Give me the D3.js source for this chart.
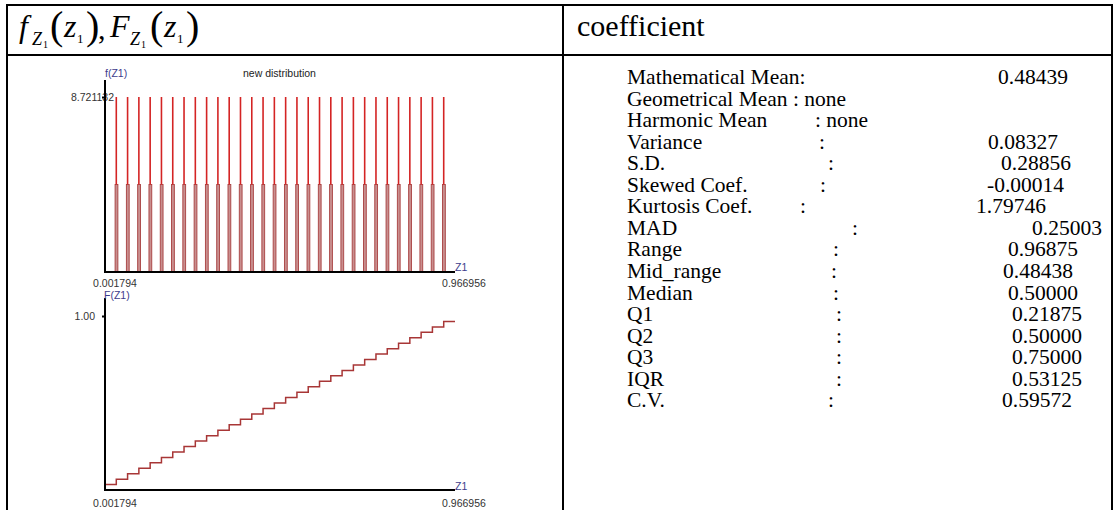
<!DOCTYPE html>
<html><head><meta charset="utf-8">
<script src="https://cdn.jsdelivr.net/npm/d3@7"></script>
<style>
html,body{margin:0;padding:0;background:#fff;}
svg{display:block;}
</style></head>
<body>
<script>
// ---- data ----
const zValues = [0.001794,0.032928,0.064063,0.095197,0.126331,0.157465,0.188600,0.219734,0.250868,0.282002,0.313137,0.344271,0.375405,0.406539,0.437674,0.468808,0.499942,0.531076,0.562211,0.593345,0.624479,0.655613,0.686748,0.717882,0.749016,0.780150,0.811285,0.842419,0.873553,0.904687,0.935822,0.966956];
const spikeZ = [0.032928,0.064063,0.095197,0.126331,0.157465,0.188600,0.219734,0.250868,0.282002,0.313137,0.344271,0.375405,0.406539,0.437674,0.468808,0.499942,0.531076,0.562211,0.593345,0.624479,0.655613,0.686748,0.717882,0.749016,0.780150,0.811285,0.842419,0.873553,0.904687,0.935822];
const spikeTop = [8.721132,8.721132,8.721132,8.721132,8.721132,8.721132,8.721132,8.721132,8.721132,8.721132,8.721132,8.721132,8.721132,8.721132,8.721132,8.721132,8.721132,8.721132,8.721132,8.721132,8.721132,8.721132,8.721132,8.721132,8.721132,8.721132,8.721132,8.721132,8.721132,8.721132];
const spikeBar = [4.36,4.36,4.36,4.36,4.36,4.36,4.36,4.36,4.36,4.36,4.36,4.36,4.36,4.36,4.36,4.36,4.36,4.36,4.36,4.36,4.36,4.36,4.36,4.36,4.36,4.36,4.36,4.36,4.36,4.36];
const cdfValues = [0.03125,0.0625,0.09375,0.125,0.15625,0.1875,0.21875,0.25,0.28125,0.3125,0.34375,0.375,0.40625,0.4375,0.46875,0.5,0.53125,0.5625,0.59375,0.625,0.65625,0.6875,0.71875,0.75,0.78125,0.8125,0.84375,0.875,0.90625,0.9375,0.96875,0.96875];
const xTickLabels = ["0.001794","0.966956"];
const densityTickLabel = "8.721132";
const cdfTickLabel = "1.00";
const statLabels = ["Mathematical Mean:","Geometrical Mean : none","Harmonic Mean","Variance","S.D.","Skewed Coef.","Kurtosis Coef.","MAD","Range","Mid_range","Median","Q1","Q2","Q3","IQR","C.V."];
const statColons = ["","",": none",":",":",":",":",":",":",":",":",":",":",":",":",":"];
const statValues = ["0.48439","","","0.08327","0.28856","-0.00014","1.79746","0.25003","0.96875","0.48438","0.50000","0.21875","0.50000","0.75000","0.53125","0.59572"];

// ---- layout (not data) ----
const colonX = [0,0,815,819,828,820,800,852,833,831,833,836,836,836,836,828];
const valueX = [998,0,0,988,1001,987,976,1032,1008,1003,1008,1012,1012,1012,1012,1002];

const W = 1115, H = 510;
const svg = d3.select("body").append("svg").attr("width", W).attr("height", H);

// table borders
const border = (x1,y1,x2,y2) => svg.append("line").attr("x1",x1).attr("y1",y1).attr("x2",x2).attr("y2",y2)
  .attr("stroke","#000").attr("stroke-width",2);
border(6,5,1113,5);
border(7,4,7,H);
border(6,55,1113,55);
border(563,4,563,H);
border(1112,4,1112,H);

// header: math expression
const serif = "'Liberation Serif','Times New Roman',serif";
const hdr = svg.append("g").attr("font-family", serif).attr("fill","#000");
const piece = (x,y,t,size,italic) => hdr.append("text").attr("x",x).attr("y",y).text(t)
  .attr("font-size",size).attr("font-style", italic ? "italic" : "normal");
piece(19,37,"f",32,true);
piece(32,45,"Z",18,true);
piece(43,48,"1",10,false);
piece(50,39,"(",40,false);
piece(64,37,"z",32,true);
piece(77,43,"1",13,false);
piece(86,39,")",40,false);
piece(98,39,",",30,false);
piece(110,37,"F",32,true);
piece(130,45,"Z",18,true);
piece(141,48,"1",10,false);
piece(150,39,"(",40,false);
piece(164,37,"z",32,true);
piece(177,43,"1",13,false);
piece(186,39,")",40,false);

hdr.append("text").attr("x",577).attr("y",36).attr("font-size",30).text("coefficient");

// stats
const st = svg.append("g").attr("font-family", serif).attr("font-size",21.5).attr("fill","#000");
statLabels.forEach((lab,i) => {
  const y = 84 + i*21.55;
  st.append("text").attr("x",627).attr("y",y).text(lab);
  if (statColons[i]) st.append("text").attr("x",colonX[i]).attr("y",y).text(statColons[i]);
  if (statValues[i]) st.append("text").attr("x",valueX[i]).attr("y",y).text(statValues[i]);
});

// ---- charts ----
const sans = "'Liberation Sans',Arial,sans-serif";
const x = d3.scaleLinear().domain([zValues[0], zValues[zValues.length-1]]).range([105,455]);

// density chart
const yD = d3.scaleLinear().domain([0, 8.721132]).range([272, 97]);
const gD = svg.append("g");
gD.selectAll("rect.bar").data(spikeZ).join("rect").attr("class","bar")
  .attr("x", d => x(d) - 1.2).attr("width", 2.8)
  .attr("y", (d,i) => yD(spikeBar[i])).attr("height", (d,i) => yD(0) - yD(spikeBar[i]))
  .attr("fill","#c98f8f").attr("stroke","#a84040").attr("stroke-width",0.9);
gD.selectAll("line.spike").data(spikeZ).join("line").attr("class","spike")
  .attr("x1", d => x(d)).attr("x2", d => x(d))
  .attr("y1", (d,i) => yD(spikeBar[i])).attr("y2", (d,i) => yD(spikeTop[i]))
  .attr("stroke","#d42424").attr("stroke-width",1.6);
// axes
const axD = d3.axisLeft(yD).tickValues([8.721132]).tickSize(3).tickFormat(() => densityTickLabel);
const gAxD = gD.append("g").attr("transform","translate(105,0)").call(axD);
gAxD.select(".domain").remove();
gAxD.selectAll("text").attr("x", 9).attr("font-family",sans).attr("font-size",10.5).attr("fill","#333");
gAxD.selectAll("line").attr("stroke","#000").attr("stroke-width",2);
gD.append("line").attr("x1",105).attr("x2",105).attr("y1",80).attr("y2",yD(0)).attr("stroke","#000").attr("stroke-width",2);
gD.append("line").attr("x1",104).attr("x2",x.range()[1]).attr("y1",yD(0)).attr("y2",yD(0)).attr("stroke","#000").attr("stroke-width",2);
gD.append("text").attr("x",105).attr("y",77).text("f(Z1)").attr("font-family",sans).attr("font-size",10.5).attr("fill","#3c3c8c");
gD.append("text").attr("x",243).attr("y",77).text("new distribution").attr("font-family",sans).attr("font-size",10.5).attr("fill","#222");
gD.append("text").attr("x",455).attr("y",271).text("Z1").attr("font-family",sans).attr("font-size",10.5).attr("fill","#3c3c8c");
gD.append("text").attr("x",x(zValues[0])+10).attr("y",287).attr("text-anchor","middle").text(xTickLabels[0]).attr("font-family",sans).attr("font-size",10.5).attr("fill","#333");
gD.append("text").attr("x",x(zValues[zValues.length-1])+9).attr("y",287).attr("text-anchor","middle").text(xTickLabels[1]).attr("font-family",sans).attr("font-size",10.5).attr("fill","#333");

// CDF chart
const yC = d3.scaleLinear().domain([0,1]).range([490,316]);
const gC = svg.append("g");
const cdfLine = d3.line().x(d => x(d[0])).y(d => yC(d[1])).curve(d3.curveStepAfter);
gC.append("path").datum(zValues.map((z,i) => [z, cdfValues[i]]))
  .attr("d", cdfLine).attr("fill","none").attr("stroke","#a83636").attr("stroke-width",1.5);
const axC = d3.axisLeft(yC).tickValues([1]).tickSize(3).tickFormat(() => cdfTickLabel);
const gAxC = gC.append("g").attr("transform","translate(105,0)").call(axC);
gAxC.select(".domain").remove();
gAxC.selectAll("text").attr("x",-10).attr("font-family",sans).attr("font-size",10.5).attr("fill","#333");
gAxC.selectAll("line").attr("stroke","#000").attr("stroke-width",2);
gC.append("line").attr("x1",105).attr("x2",105).attr("y1",298).attr("y2",yC(0)).attr("stroke","#000").attr("stroke-width",2);
gC.append("line").attr("x1",104).attr("x2",x.range()[1]).attr("y1",yC(0)).attr("y2",yC(0)).attr("stroke","#000").attr("stroke-width",2);
gC.append("text").attr("x",104).attr("y",299).text("F(Z1)").attr("font-family",sans).attr("font-size",10.5).attr("fill","#3c3c8c");
gC.append("text").attr("x",455).attr("y",490).text("Z1").attr("font-family",sans).attr("font-size",10.5).attr("fill","#3c3c8c");
gC.append("text").attr("x",x(zValues[0])+10).attr("y",507).attr("text-anchor","middle").text(xTickLabels[0]).attr("font-family",sans).attr("font-size",10.5).attr("fill","#333");
gC.append("text").attr("x",x(zValues[zValues.length-1])+9).attr("y",507).attr("text-anchor","middle").text(xTickLabels[1]).attr("font-family",sans).attr("font-size",10.5).attr("fill","#333");
</script>
</body></html>
